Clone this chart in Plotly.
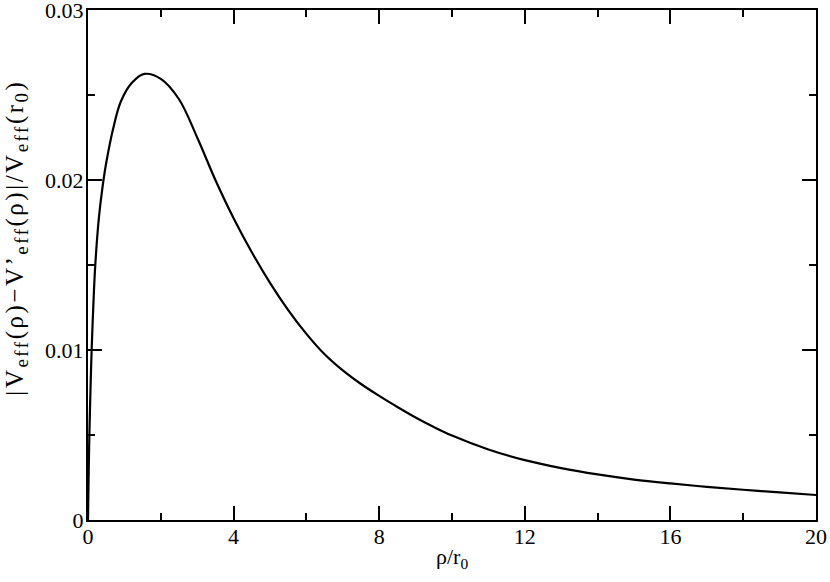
import plotly.graph_objects as go

rho = [0.0, 0.02, 0.04, 0.07, 0.10, 0.15, 0.20, 0.30, 0.40, 0.50, 0.70, 0.90, 1.20,
       1.55, 2.00, 2.50, 3.00, 3.50, 4.00, 4.50, 5.00, 5.50, 6.00, 6.50, 7.00,
       7.50, 8.00, 8.50, 9.00, 9.50, 10.0, 11.0, 12.0, 13.0, 14.0, 15.0, 16.0,
       17.0, 18.0, 19.0, 20.0]
dv = [0.0, 0.0030, 0.0052, 0.0078, 0.0100, 0.0128, 0.0150, 0.0178, 0.0196, 0.0210,
      0.0231, 0.0246, 0.0257, 0.02624, 0.02595, 0.02475, 0.02250, 0.02000, 0.01775,
      0.01575, 0.01395, 0.01235, 0.01095, 0.00975, 0.00880, 0.00800, 0.00730,
      0.00665, 0.00603, 0.00547, 0.00497, 0.00415, 0.00352, 0.00305, 0.00268,
      0.00238, 0.00215, 0.00195, 0.00178, 0.00162, 0.00147]

x_ticks = [0, 4, 8, 12, 16, 20]
y_ticks = [0, 0.01, 0.02, 0.03]
y_tick_text = ["0", "0.01", "0.02", "0.03"]

font = "Liberation Serif, Times New Roman, serif"

fig = go.Figure()
fig.add_trace(go.Scatter(x=rho, y=dv, mode="lines",
                         line=dict(color="black", width=2.2, shape="spline", smoothing=1.0),
                         showlegend=False, hoverinfo="skip"))

axis_common = dict(showgrid=False, zeroline=False, showline=True, linecolor="black", linewidth=2,
                   ticks="inside", tickcolor="black", tickwidth=1.5, ticklen=14, mirror="allticks",
                   automargin=False, ticklabeloverflow="allow",
                   tickfont=dict(family=font, size=22, color="black"))

fig.update_layout(
    width=830, height=582,
    margin=dict(l=88, r=14, t=10, b=62),
    paper_bgcolor="white", plot_bgcolor="white",
    font=dict(family=font, color="black"),
    xaxis=dict(range=[0, 20], tickvals=x_ticks, ticktext=[str(v) for v in x_ticks], ticklabelstandoff=-4,
               minor=dict(dtick=2, tick0=0, ticklen=7, ticks="inside", tickcolor="black", tickwidth=1.5),
               **axis_common),
    yaxis=dict(range=[0, 0.03], tickvals=y_ticks, ticktext=y_tick_text, ticklabelstandoff=-2,
               minor=dict(dtick=0.005, tick0=0, ticklen=7, ticks="inside", tickcolor="black", tickwidth=1.5),
               **axis_common),
)

fig.add_annotation(
    text="ρ/r<sub>0</sub>", xref="paper", yref="paper", x=0.5, y=-0.044,
    xanchor="center", yanchor="top", showarrow=False,
    font=dict(family=font, size=22, color="black"))

fig.add_annotation(
    text=("<span style=\"letter-spacing:2.5px\">|V<sub><span style=\"font-size:19px\">eff</span></sub>(ρ)−V’"
          "<sub><span style=\"font-size:19px\">eff</span></sub>(ρ)|/V"
          "<sub><span style=\"font-size:19px\">eff</span></sub>(r<sub><span style=\"font-size:19px\">0</span></sub>)</span>"),
    xref="paper", yref="paper", x=-0.098, y=0.553, textangle=-90,
    xanchor="center", yanchor="middle", showarrow=False,
    font=dict(family=font, size=25, color="black"))

fig.write_html("out.html", config={"displayModeBar": False},
               post_script="document.body.style.margin='0';document.body.style.overflow='hidden';")
